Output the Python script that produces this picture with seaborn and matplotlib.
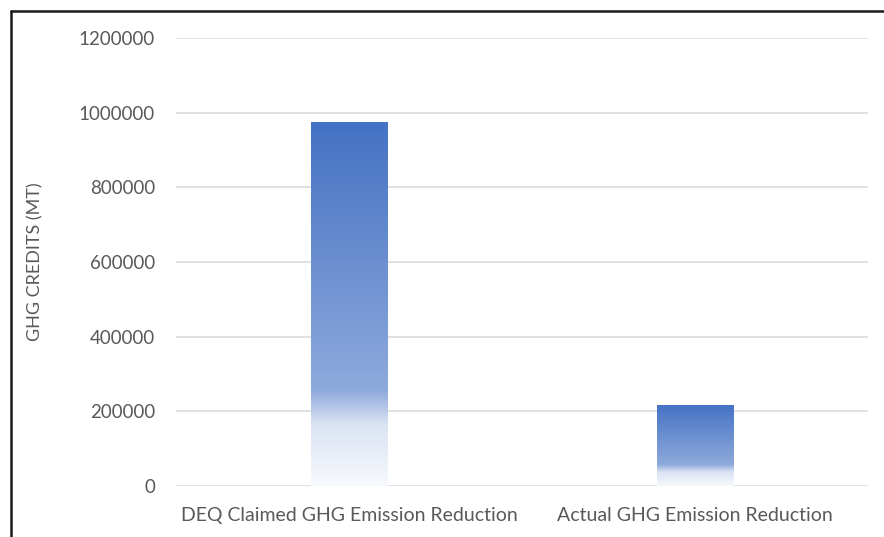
import numpy as np
import pandas as pd
import matplotlib
matplotlib.use("Agg")
import matplotlib.pyplot as plt
from matplotlib.colors import LinearSegmentedColormap
from matplotlib.lines import Line2D
import seaborn as sns

# Data
categories = ["DEQ Claimed GHG Emission Reduction", "Actual GHG Emission Reduction"]
credits = [975000, 217000]
y_ticks = [0, 200000, 400000, 600000, 800000, 1000000, 1200000]
y_label = "GHG CREDITS (MT)"

df = pd.DataFrame({"category": categories, "credits": credits})

sns.set_theme(style="white")
plt.rcParams["font.family"] = ["Lato", "DejaVu Sans"]

text_color = "#595959"
grid_color = "#D9D9D9"

fig = plt.figure(figsize=(8.84, 5.37), dpi=100)
ax = fig.add_axes([176 / 884, 51 / 537, 692 / 884, 448 / 537])

sns.barplot(data=df, x="category", y="credits", ax=ax, width=0.22,
            color="#4472C4", saturation=1, linewidth=0)

# Vertical gradient fill (dark blue at the top fading to white at the base)
grad = LinearSegmentedColormap.from_list(
    "bar_grad",
    [(0.0, "#4472C4"), (0.74, "#8FAADC"), (0.83, "#DAE3F3"), (1.0, "#F7F9FD")],
)
ramp = np.linspace(0, 1, 256).reshape(-1, 1)
for patch in ax.patches:
    x0, y0 = patch.get_x(), patch.get_y()
    w, h = patch.get_width(), patch.get_height()
    patch.set_facecolor("none")
    im = ax.imshow(ramp, cmap=grad, aspect="auto",
                   extent=(x0, x0 + w, y0, y0 + h), origin="upper",
                   interpolation="bilinear", zorder=2)
    im.set_clip_path(patch)

ax.set_xlim(-0.5, 1.5)
ax.set_ylim(0, 1200000)
ax.set_yticks(y_ticks)
ax.set_yticklabels([str(v) for v in y_ticks])
ax.yaxis.grid(True, color=grid_color, linewidth=1.1, zorder=0)
ax.set_axisbelow(True)
for s in ax.spines.values():
    s.set_visible(False)

ax.tick_params(axis="y", length=0, pad=15, labelsize=13.5, labelcolor=text_color)
ax.tick_params(axis="x", length=0, pad=15, labelsize=14, labelcolor=text_color)
ax.set_xlabel("")
ax.set_ylabel(y_label, fontsize=13, color=text_color)
ax.yaxis.set_label_coords(-0.191, 0.5)

# Frame lines along the top and left edges
fig.add_artist(Line2D([10.5 / 884, 1.0], [1 - 11 / 537, 1 - 11 / 537],
                      transform=fig.transFigure, color="#1a1a1a", linewidth=1.8))
fig.add_artist(Line2D([10.5 / 884, 10.5 / 884], [0.0, 1 - 11 / 537],
                      transform=fig.transFigure, color="#1a1a1a", linewidth=1.8))

fig.savefig("out.png", dpi=100)
